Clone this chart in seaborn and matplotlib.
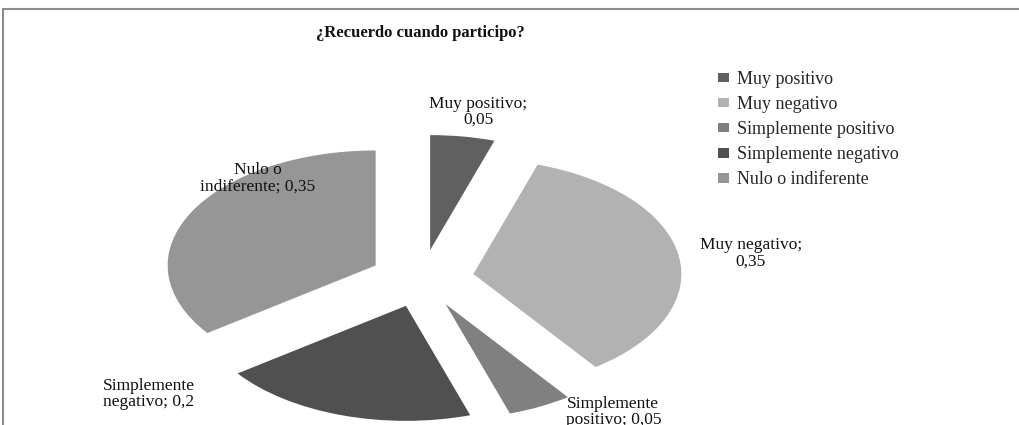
import matplotlib

matplotlib.use("Agg")
import matplotlib.pyplot as plt
from matplotlib.patches import Patch, Rectangle
import seaborn as sns

TITLE = "¿Recuerdo cuando participo?"
CATEGORIES = [
    "Muy positivo",
    "Muy negativo",
    "Simplemente positivo",
    "Simplemente negativo",
    "Nulo o indiferente",
]
VALUES = [0.05, 0.35, 0.05, 0.2, 0.35]
SLICE_LABELS = [
    "Muy positivo;\n0,05",
    "Muy negativo;\n0,35",
    "Simplemente\npositivo; 0,05",
    "Simplemente\nnegativo; 0,2",
    "Nulo o\nindiferente; 0,35",
]
COLORS = ["#606060", "#b2b2b2", "#808080", "#505050", "#969696"]

# label anchor points in data units (pie radius = 1) and their alignment
LABEL_POS = [(0.27, 1.45), (1.58, 0.22), (0.92, -1.16), (-1.534, -1.0), (-0.79, 0.87)]
LABEL_HA = ["center", "center", "center", "left", "center"]

W, H = 1019, 425

sns.set_theme(style="white")
plt.rcParams["font.family"] = ["Liberation Serif", "DejaVu Serif"]

fig = plt.figure(figsize=(W / 100, H / 100), dpi=100)
fig.patch.set_facecolor("white")

# axes sized so the pie is stretched into an ellipse like the original
ax = fig.add_axes([6 / W, -26 / H, 832 / W, 345 / H])
ax.pie(
    VALUES,
    colors=COLORS,
    startangle=90,
    counterclock=False,
    explode=[0.25] * len(VALUES),
    radius=1,
    wedgeprops={"linewidth": 0},
)
ax.set_aspect("auto")
ax.set_xlim(-2, 2)
ax.set_ylim(-1.5, 1.5)
ax.axis("off")

for label, (x, y), ha in zip(SLICE_LABELS, LABEL_POS, LABEL_HA):
    ax.text(x, y, label, ha=ha, va="center", fontsize=12.5, color="#111111",
            linespacing=1.0, clip_on=False)

fig.text(420 / W, 1 - 33 / H, TITLE, ha="center", va="center", fontsize=12,
         fontweight="bold", color="#111111")

handles = [Patch(facecolor=c, edgecolor="none", label=cat) for cat, c in zip(CATEGORIES, COLORS)]
fig.legend(
    handles=handles,
    loc="upper left",
    bbox_to_anchor=(718 / W, 1 - 71 / H),
    frameon=False,
    fontsize=13,
    handlelength=0.62,
    handleheight=0.42,
    handletextpad=0.45,
    labelspacing=0.45,
    borderpad=0,
    borderaxespad=0,
)

fig.add_artist(Rectangle((3 / W, -0.1), 1.2, (H - 9) / H + 0.1, transform=fig.transFigure,
                         fill=False, edgecolor="#8c8c8c", linewidth=1.5))

fig.savefig("out.png", dpi=100)
plt.close(fig)
